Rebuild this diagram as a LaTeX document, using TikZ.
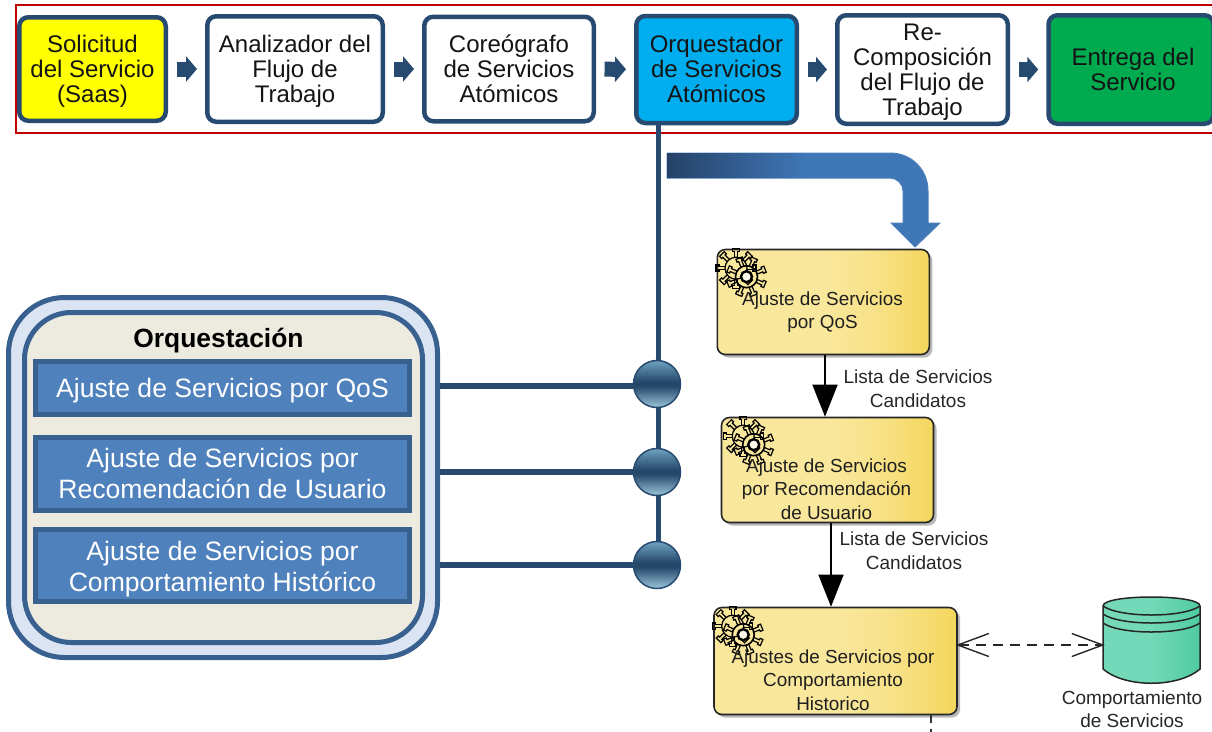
\documentclass[tikz,border=0pt]{standalone}
\usepackage{fontspec}
\setmainfont{Liberation Sans}
\usetikzlibrary{arrows.meta,shadows}
\definecolor{navy}{HTML}{274A70}
\definecolor{panelblue}{HTML}{38618F}
\definecolor{paleblue}{HTML}{DAE4F2}
\definecolor{cream}{HTML}{EDEBE0}
\definecolor{itemblue}{HTML}{4F81BD}
\definecolor{bandblue}{HTML}{3F76B5}
\definecolor{banddark}{HTML}{254268}
\definecolor{taskA}{HTML}{F9E79C}
\definecolor{taskB}{HTML}{F4D65C}
\definecolor{dbA}{HTML}{74D9B8}
\definecolor{dbB}{HTML}{4ECB9F}
\definecolor{ballA}{HTML}{9CC7DA}
\definecolor{ballB}{HTML}{6FA3C0}
\definecolor{ballC}{HTML}{234669}
\definecolor{startyellow}{HTML}{FFFF00}
\definecolor{orchcyan}{HTML}{00AEEF}
\definecolor{endgreen}{HTML}{00AB50}
\definecolor{framered}{HTML}{C00000}
\pgfdeclarehorizontalshading{tasksh}{100bp}{color(0bp)=(taskA); color(25bp)=(taskA); color(50bp)=(taskA); color(62bp)=(taskA!70!taskB); color(75bp)=(taskB); color(100bp)=(taskB)}
\pgfdeclarehorizontalshading{dbsh}{100bp}{color(0bp)=(dbA); color(50bp)=(dbA); color(75bp)=(dbB); color(100bp)=(dbB)}
\pgfdeclareverticalshading{ballsh}{100bp}{color(0bp)=(ballA); color(25bp)=(ballA); color(48bp)=(ballC); color(52bp)=(ballC); color(75bp)=(ballB); color(100bp)=(ballB)}
\newcommand{\cogtooth}[3]{% centre, angle, hub radius
  \begin{scope}[shift={#1},rotate=#2]
   \draw[gearline] (#3,-1.6) -- (#3+6,-1.6) -- (#3+6,-3.3) -- (#3+9,-3.3) -- (#3+9,3.3) -- (#3+6,3.3) -- (#3+6,1.6) -- (#3,1.6);
  \end{scope}}
\newcommand{\txtlines}[2][-10pt]{\raisebox{#1}[0pt][0pt]{\begin{tabular}{@{}c@{}}#2\end{tabular}}}
\tikzset{
 flowbox/.style={draw=navy,line width=4.5pt,rounded corners=9pt,inner sep=0pt,font=\fontsize{24}{25}\selectfont,fill=white,text=black!92},
 flowarrow/.style={draw=navy,line width=15pt,-{Triangle[length=11pt,width=25pt]},shorten <=8.5pt,shorten >=8pt},
 panelouter/.style={draw=panelblue,line width=5pt,fill=paleblue,rounded corners=56pt,inner sep=0pt},
 panelinner/.style={draw=panelblue,line width=5pt,fill=cream,rounded corners=47pt,inner sep=0pt},
 itembox/.style={draw=panelblue,line width=5pt,fill=itemblue,text=white,inner sep=0pt,minimum width=374pt,font=\fontsize{26.6}{31}\selectfont},
 bus/.style={draw=navy,line width=5.5pt},
 ball/.style={circle,draw=navy,line width=1.5pt,shade,shading=ballsh,minimum size=47pt,inner sep=0pt},
 taskbox/.style={draw=black!85,line width=1.6pt,rounded corners=8pt,shade,shading=tasksh,inner sep=0pt,drop shadow={shadow xshift=3pt,shadow yshift=-3pt,opacity=.28,fill=black}},
 tasktext/.style={align=center,inner sep=0pt,text=black!88,font=\fontsize{18.9}{23.7}\selectfont},
 flowlabel/.style={align=center,inner sep=0pt,text=black!85,font=\fontsize{19}{23.5}\selectfont},
 seq/.style={draw=black,line width=1.6pt,-{Triangle[length=32pt,width=25pt]}},
 assoc/.style={draw=black!85,line width=1.5pt,dash pattern=on 10pt off 7pt,shorten <=-2pt,shorten >=-2pt,{Straight Barb[length=31pt,width=23pt,line width=1.4pt]}-{Straight Barb[length=31pt,width=23pt,line width=1.4pt]}},
 gearline/.style={draw=black,line width=1.2pt},
 gearicon/.pic={
  \foreach \a in {0,45,...,315}{\cogtooth{(19.5,19.5)}{\a}{11}}
  \draw[gearline] (19.5,19.5) circle (11);
  \foreach \a in {0,45,...,315}{\cogtooth{(30,28)}{\a+22}{11}}
  \draw[gearline,line width=1.6pt] (30,28) circle (11);
  \draw[gearline,fill=white!80!taskA,line width=2.4pt] (30,28) circle (5.5);
 }
}
\begin{document}
\begin{tikzpicture}[x=1pt,y=-1pt]
\useasboundingbox (0,0) rectangle (1212,731);
\clip (0,0) rectangle (1212,731);
% top row
\draw[draw=framered,line width=2.2pt] (16,5) rectangle (1216,133);
\node[flowbox,fill=startyellow,minimum width=146.5pt,minimum height=103.5pt] (b1) at (92.5,69) {\txtlines{Solicitud\\del Servicio\\(Saas)}};
\node[flowbox,minimum width=175.5pt,minimum height=105.5pt] (b2) at (295,69) {\txtlines{Analizador del\\Flujo de\\Trabajo}};
\node[flowbox,minimum width=169.5pt,minimum height=104.5pt] (b3) at (509,69) {\txtlines{Coreógrafo\\de Servicios\\Atómicos}};
\node[flowbox,fill=orchcyan,minimum width=160.5pt,minimum height=107pt] (b4) at (716.5,69.5) {\txtlines[-9pt]{Orquestador\\de Servicios\\Atómicos}};
\node[flowbox,minimum width=170.5pt,minimum height=108.5pt] (b5) at (922.5,69.5) {\txtlines[-9.5pt]{Re-\\Composición\\del Flujo de\\Trabajo}};
\node[flowbox,fill=endgreen,minimum width=165pt,minimum height=108.5pt] (b6) at (1131,69.5) {\hspace*{4pt}\txtlines[-9.5pt]{Entrega del\\Servicio}};
\draw[flowarrow] (b1) -- (b2);
\draw[flowarrow] (b2) -- (b3);
\draw[flowarrow] (b3) -- (b4);
\draw[flowarrow] (b4) -- (b5);
\draw[flowarrow] (b5) -- (b6);
% panel
\node[panelouter,minimum width=429pt,minimum height=360pt] (orch) at (223,477.5) {};
\node[panelinner,minimum width=398pt,minimum height=330pt] (orchin) at (223.5,477.5) {};
\node[inner sep=0pt,font=\bfseries\fontsize{26.4}{30}\selectfont] (orchtitle) at (218.5,340.5) {Orquestación};
\node[itembox,minimum height=53pt] (i1) at (222.5,388) {\txtlines{Ajuste de Servicios por QoS}};
\node[itembox,minimum height=73pt] (i2) at (222.5,473.5) {\txtlines[-9.5pt]{Ajuste de Servicios por\\Recomendación de Usuario}};
\node[itembox,minimum height=72pt] (i3) at (222.5,565.5) {\txtlines[-10.5pt]{Ajuste de Servicios por\\Comportamiento Histórico}};
% bus
\coordinate (c1) at (657,384);
\coordinate (c2) at (657,472);
\coordinate (c3) at (657,565);
\draw[bus] ([xshift=-58pt]b4.south) -- ([xshift=1.5pt]c3);
\draw[bus] ([yshift=-2pt]orch.east |- c1) -- ([yshift=-2pt]c1);
\draw[bus] (orch.east |- c2) -- (c2);
\draw[bus] (orch.east |- c3) -- (c3);
\node[ball] (n1) at (c1) {};
\node[ball] (n2) at (c2) {};
\node[ball] (n3) at (c3) {};
% curved band
\draw[draw=itemblue,line width=1pt,fill=bandblue] (667,153) -- (890,153) .. controls (912,153) and (928,170) .. (928,191) -- (928,223) -- (940,223) -- (915,247) -- (891,223) -- (903,223) -- (903,191) .. controls (903,184) and (897,178) .. (890,178) -- (667,178) -- cycle;
\shade[left color=banddark,right color=bandblue] (667,153.5) rectangle (803,177.5);
% tasks
\node[taskbox,minimum width=212pt,minimum height=105pt] (t1) at (823.3,302) {};
\node[taskbox,minimum width=212pt,minimum height=105pt] (t2) at (827.5,470) {};
\node[taskbox,minimum width=243pt,minimum height=107pt] (t3) at (835.5,661) {};
\pic at (t1.north west) {gearicon};
\pic at ([xshift=3pt]t2.north west) {gearicon};
\pic at (t3.north west) {gearicon};
\node[tasktext] (t1txt) at (822.5,312) {Ajuste de Servicios\\por QoS};
\node[tasktext] (t2txt) at (826.5,489) {Ajuste de Servicios\\por Recomendación\\de Usuario};
\node[tasktext] (t3txt) at (833,680) {Ajustes de Servicios por\\Comportamiento\\Historico};
\draw[seq] ([xshift=1.7pt]t1.south) -- ([xshift=-2.5pt]t2.north);
\draw[seq] ([xshift=3.5pt]t2.south) -- ([xshift=-4.5pt]t3.north);
\node[flowlabel] (l1) at (918,388.5) {Lista de Servicios\\Candidatos};
\node[flowlabel] (l2) at (914,550.5) {Lista de Servicios\\Candidatos};
% database
\node[minimum width=97pt,minimum height=76pt,inner sep=0pt] (db) at (1151.5,645) {};
\draw[draw=black!85,line width=1.5pt,shade,shading=dbsh] (1103,606) -- (1103,669) .. controls (1125,688) and (1178,688) .. (1200,669) -- (1200,606) .. controls (1200,594) and (1103,594) .. (1103,606) -- cycle;
\draw[draw=black!85,line width=1.5pt] (1103,606) .. controls (1120,618) and (1183,618) .. (1200,606);
\draw[draw=black!85,line width=1.5pt] (1103,614) .. controls (1120,626) and (1183,626) .. (1200,614);
\draw[draw=black!85,line width=1.5pt] (1103,623) .. controls (1120,635) and (1183,635) .. (1200,623);
\draw[assoc] ([yshift=16pt]t3.east) -- (db.west);
\node[flowlabel] (dbl) at (1132,709) {Comportamiento\\de Servicios};
% outgoing dashed stub
\coordinate (stub) at (931,740);
\draw[draw=black!80,line width=1.6pt,dash pattern=on 8pt off 6pt] (t3.south -| stub) -- (stub);
\end{tikzpicture}
\end{document}
